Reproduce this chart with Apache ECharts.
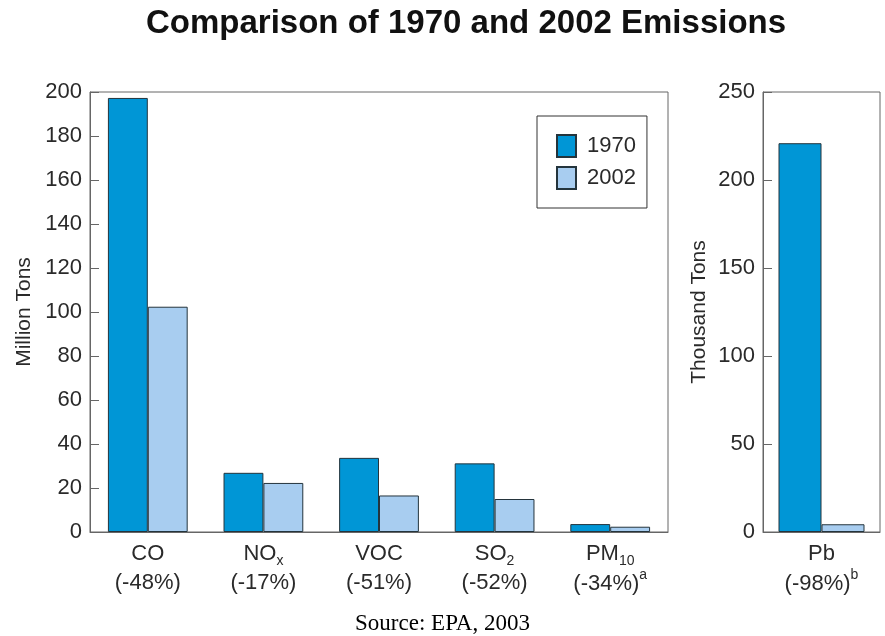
<!DOCTYPE html>
<html>
<head>
<meta charset="utf-8">
<script src="https://cdn.jsdelivr.net/npm/echarts@6/dist/echarts.min.js"></script>
<style>
  html, body { margin: 0; padding: 0; background: #fff; }
  #chart { width: 885px; height: 636px; }
</style>
</head>
<body>
<div id="chart"></div>
<script>
// pollutants measured in million tons
var pollutants = ['CO', 'NO{sub|x}', 'VOC', 'SO{sub|2}', 'PM{sub|10}'];
var changes = ['(-48%)', '(-17%)', '(-51%)', '(-52%)', '(-34%)'];
var notes = ['', '', '', '', 'a'];
var tons1970 = [197.3, 26.9, 33.7, 31.2, 3.6];
var tons2002 = [102.4, 22.3, 16.6, 15.0, 2.4];

// lead, thousand tons
var leadCats = ['Pb'];
var leadChanges = ['(-98%)'];
var leadNotes = ['b'];
var lead1970 = [220.9];
var lead2002 = [4.4];

var leftTicks = { min: 0, max: 200, interval: 20 };
var rightTicks = { min: 0, max: 250, interval: 50 };

var c1970 = '#0096d6';
var c2002 = '#a8cdf0';
var edge = '#24343c';
var font = 'Liberation Sans';
var ink = '#2a2a2a';

function makeLabels(names, chg, nt) {
    return names.map(function (n, i) {
        return n + '\n' + chg[i] + (nt[i] ? '{sup|' + nt[i] + '}' : '');
    });
}

var xRich = {
    sub: { fontSize: 14, fontFamily: font, color: ink, verticalAlign: 'bottom', lineHeight: 24 },
    sup: { fontSize: 14, fontFamily: font, color: ink, verticalAlign: 'top', lineHeight: 32 }
};

var chartDom = document.getElementById('chart');
var myChart = echarts.init(chartDom);

function yAxisStyle(name, ticks, idx, gap) {
    return {
        type: 'value',
        gridIndex: idx,
        min: ticks.min,
        max: ticks.max,
        interval: ticks.interval,
        name: name,
        nameLocation: 'middle',
        nameGap: gap,
        nameTextStyle: { fontSize: 21, fontFamily: font, color: ink },
        axisLine: { show: true, lineStyle: { color: '#666' } },
        axisTick: { show: true, inside: true, length: 9, lineStyle: { color: '#666' } },
        axisLabel: { fontSize: 22, fontFamily: font, color: ink, margin: 8 },
        splitLine: { show: false }
    };
}

function xAxisStyle(data, idx) {
    return {
        type: 'category',
        gridIndex: idx,
        data: data,
        axisLine: { show: true, lineStyle: { color: '#666' } },
        axisTick: { show: false },
        axisLabel: {
            interval: 0,
            fontSize: 22,
            fontFamily: font,
            color: ink,
            lineHeight: 29,
            margin: 7,
            rich: xRich
        }
    };
}

var barStyle = function (color) {
    return { color: color, borderColor: edge, borderWidth: 1 };
};

var option = {
    backgroundColor: '#fff',
    animation: false,
    title: [{
        text: 'Comparison of 1970 and 2002 Emissions',
        left: 141,
        top: 2,
        textStyle: { fontSize: 33, fontWeight: 'bold', fontFamily: font, color: '#111' }
    }, {
        text: 'Source: EPA, 2003',
        left: 'center',
        top: 607,
        textStyle: { fontSize: 23, fontWeight: 'normal', fontFamily: 'Liberation Serif', color: '#000' }
    }],
    legend: {
        data: ['1970', '2002'],
        orient: 'vertical',
        left: 537,
        top: 116,
        icon: 'rect',
        itemWidth: 19,
        itemHeight: 22,
        itemGap: 8,
        padding: [18, 11, 18, 19],
        borderColor: '#333',
        borderWidth: 1,
        textStyle: { fontSize: 22, fontFamily: font, color: ink, padding: [0, 0, 0, 6] }
    },
    grid: [
        { left: 90, right: 217, top: 92, bottom: 104, show: true, borderColor: '#666', borderWidth: 1 },
        { left: 763, right: 5, top: 92, bottom: 104, show: true, borderColor: '#666', borderWidth: 1 }
    ],
    xAxis: [
        xAxisStyle(makeLabels(pollutants, changes, notes), 0),
        xAxisStyle(makeLabels(leadCats, leadChanges, leadNotes), 1)
    ],
    yAxis: [
        yAxisStyle('Million Tons', leftTicks, 0, 52),
        yAxisStyle('Thousand Tons', rightTicks, 1, 53)
    ],
    series: [
        { name: '1970', type: 'bar', xAxisIndex: 0, yAxisIndex: 0, data: tons1970,
          barGap: '0%', barCategoryGap: '31%', itemStyle: barStyle(c1970) },
        { name: '2002', type: 'bar', xAxisIndex: 0, yAxisIndex: 0, data: tons2002,
          itemStyle: barStyle(c2002) },
        { name: '1970', type: 'bar', xAxisIndex: 1, yAxisIndex: 1, data: lead1970,
          barGap: '0%', barWidth: 43, itemStyle: barStyle(c1970) },
        { name: '2002', type: 'bar', xAxisIndex: 1, yAxisIndex: 1, data: lead2002,
          barWidth: 43, itemStyle: barStyle(c2002) }
    ]
};

myChart.setOption(option);
</script>
</body>
</html>
